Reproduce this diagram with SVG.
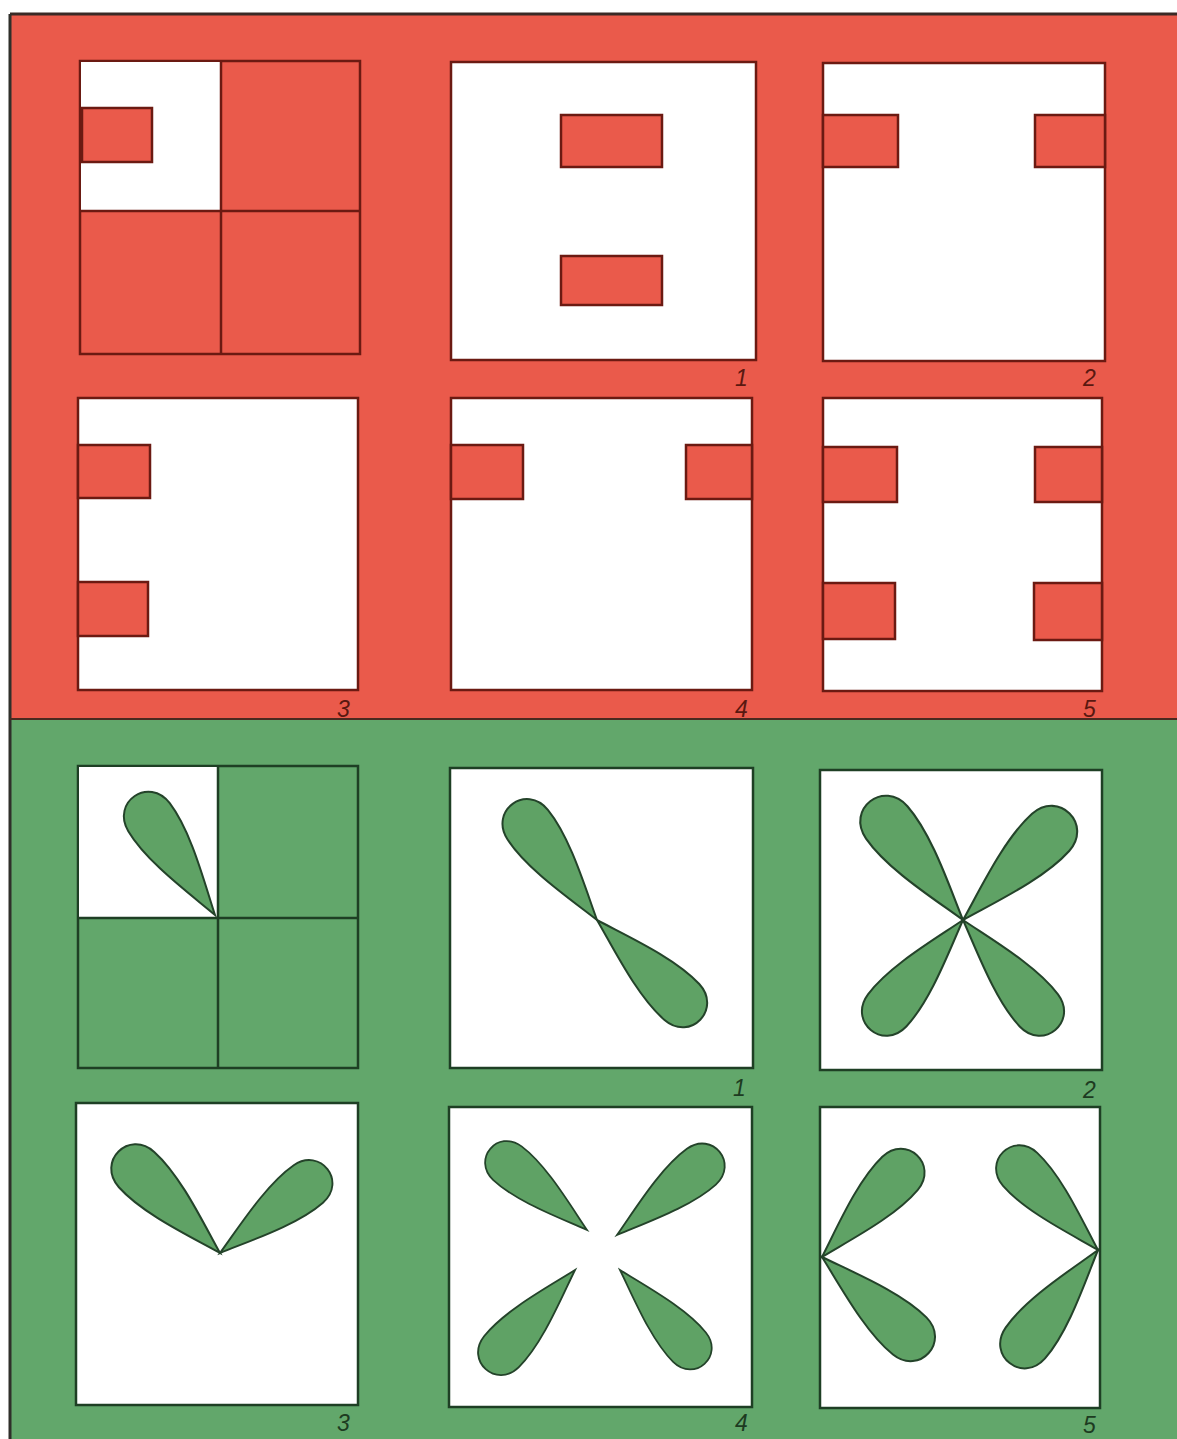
<svg xmlns="http://www.w3.org/2000/svg" xmlns:xlink="http://www.w3.org/1999/xlink" width="1177" height="1439" viewBox="0 0 1177 1439">
<style>
.redbg{fill:#EA5A4B}
.greenbg{fill:#62A76B}
.rbox{fill:#ffffff;stroke:#6b1a12;stroke-width:2.5}
.rfill{fill:#EA5A4B;stroke:#6b1a12;stroke-width:2.5}
.gbox{fill:#ffffff;stroke:#1e3f24;stroke-width:2.5}
.gfill{fill:#62A76B;stroke:#1e3f24;stroke-width:2.5}
.petal{fill:#5FA265;stroke:#24432a;stroke-width:2}
.lblr{font-family:"Liberation Sans",Arial,sans-serif;font-style:italic;font-size:23px;fill:#5a1810}
.lblg{font-family:"Liberation Sans",Arial,sans-serif;font-style:italic;font-size:23px;fill:#1d3b21}
</style>
<defs>
<path id="petal" d="M0,0 C -9,-32 -27,-82 -25,-118 C -23,-152 23,-152 25,-118 C 27,-82 9,-32 0,0 Z"/>
</defs>
<rect x="0" y="0" width="1177" height="1439" fill="#ffffff"/>
<rect class="redbg" x="10" y="14" width="1167" height="705"/>
<rect class="greenbg" x="10" y="719" width="1167" height="720"/>
<line x1="10" y1="14" x2="1177" y2="14" stroke="#3a2a26" stroke-width="3"/>
<line x1="10" y1="14" x2="10" y2="1439" stroke="#2f2f2a" stroke-width="3"/>
<line x1="10" y1="719" x2="1177" y2="719" stroke="#4a2a20" stroke-width="2"/>

<g id="red-key">
<rect class="rfill" x="80" y="61" width="280" height="293"/>
<rect x="81" y="62" width="139" height="148" fill="#ffffff"/>
<line x1="221" y1="61" x2="221" y2="354" stroke="#6b1a12" stroke-width="2.5"/>
<line x1="80" y1="211" x2="360" y2="211" stroke="#6b1a12" stroke-width="2.5"/>
<rect class="rfill" x="82" y="108" width="70" height="54"/>
</g>
<g id="red-1">
<rect class="rbox" x="451" y="62" width="305" height="298"/>
<rect class="rfill" x="561" y="115" width="101" height="52"/>
<rect class="rfill" x="561" y="256" width="101" height="49"/>
<text class="lblr" x="735" y="386">1</text>
</g>
<g id="red-2">
<rect class="rbox" x="823" y="63" width="282" height="298"/>
<rect class="rfill" x="823" y="115" width="75" height="52"/>
<rect class="rfill" x="1035" y="115" width="70" height="52"/>
<text class="lblr" x="1083" y="386">2</text>
</g>
<g id="red-3">
<rect class="rbox" x="78" y="398" width="280" height="292"/>
<rect class="rfill" x="78" y="445" width="72" height="53"/>
<rect class="rfill" x="78" y="582" width="70" height="54"/>
<text class="lblr" x="337" y="717">3</text>
</g>
<g id="red-4">
<rect class="rbox" x="451" y="398" width="301" height="292"/>
<rect class="rfill" x="451" y="445" width="72" height="54"/>
<rect class="rfill" x="686" y="445" width="66" height="54"/>
<text class="lblr" x="735" y="717">4</text>
</g>
<g id="red-5">
<rect class="rbox" x="823" y="398" width="279" height="293"/>
<rect class="rfill" x="823" y="447" width="74" height="55"/>
<rect class="rfill" x="823" y="583" width="72" height="56"/>
<rect class="rfill" x="1035" y="447" width="67" height="55"/>
<rect class="rfill" x="1034" y="583" width="68" height="57"/>
<text class="lblr" x="1083" y="717">5</text>
</g>

<g id="green-key">
<rect class="gfill" x="78" y="766" width="280" height="302"/>
<rect x="79" y="767" width="139" height="150" fill="#ffffff"/>
<line x1="218" y1="766" x2="218" y2="1068" stroke="#1e3f24" stroke-width="2.5"/>
<line x1="78" y1="918" x2="358" y2="918" stroke="#1e3f24" stroke-width="2.5"/>
<use xlink:href="#petal" class="petal" transform="translate(215,915) rotate(-34)"/>
</g>
<g id="green-1">
<rect class="gbox" x="450" y="768" width="303" height="300"/>
<use xlink:href="#petal" class="petal" transform="translate(597,920) rotate(-36)"/>
<use xlink:href="#petal" class="petal" transform="translate(597,920) rotate(134)"/>
<text class="lblg" x="733" y="1096">1</text>
</g>
<g id="green-2">
<rect class="gbox" x="820" y="770" width="282" height="300"/>
<use xlink:href="#petal" class="petal" transform="translate(963,920) rotate(-38) scale(1.05)"/>
<use xlink:href="#petal" class="petal" transform="translate(963,920) rotate(45) scale(1.05)"/>
<use xlink:href="#petal" class="petal" transform="translate(963,920) rotate(-140)"/>
<use xlink:href="#petal" class="petal" transform="translate(963,920) rotate(140)"/>
<text class="lblg" x="1083" y="1098">2</text>
</g>
<g id="green-3">
<rect class="gbox" x="76" y="1103" width="282" height="302"/>
<use xlink:href="#petal" class="petal" transform="translate(220,1253) rotate(-45)"/>
<use xlink:href="#petal" class="petal" transform="translate(220,1253) rotate(52) scale(0.95)"/>
<text class="lblg" x="337" y="1431">3</text>
</g>
<g id="green-4">
<rect class="gbox" x="449" y="1107" width="303" height="300"/>
<use xlink:href="#petal" class="petal" transform="translate(587,1230) rotate(-50) scale(0.88)"/>
<use xlink:href="#petal" class="petal" transform="translate(617,1235) rotate(51) scale(0.92)"/>
<use xlink:href="#petal" class="petal" transform="translate(575,1270) rotate(-138) scale(0.93)"/>
<use xlink:href="#petal" class="petal" transform="translate(620,1270) rotate(138) scale(0.88)"/>
<text class="lblg" x="735" y="1431">4</text>
</g>
<g id="green-5">
<rect class="gbox" x="820" y="1107" width="280" height="301"/>
<use xlink:href="#petal" class="petal" transform="translate(822,1257) rotate(43) scale(0.97)"/>
<use xlink:href="#petal" class="petal" transform="translate(822,1257) rotate(132)"/>
<use xlink:href="#petal" class="petal" transform="translate(1098,1250) rotate(-44) scale(0.95)"/>
<use xlink:href="#petal" class="petal" transform="translate(1098,1250) rotate(-142)"/>
<text class="lblg" x="1083" y="1433">5</text>
</g>
<g id="connectors"></g>
</svg>
